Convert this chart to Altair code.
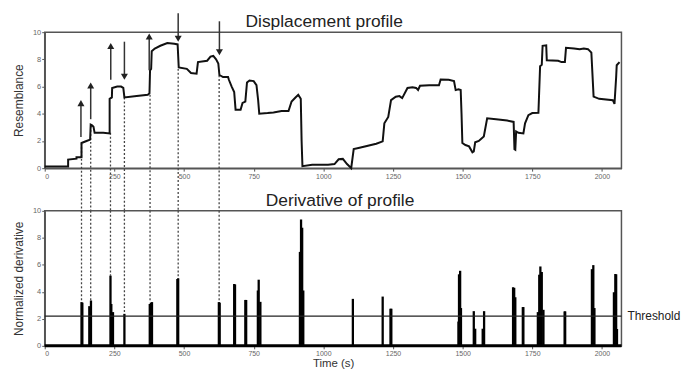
import altair as alt
import pandas as pd

# ---------------- data ----------------
# Displacement profile (time s, resemblance)
prof_t = [0, 84, 84, 114, 114, 132, 132, 150, 163, 165, 170, 175, 179, 210, 233, 233, 241, 242,
          260, 274, 282, 286, 330, 370, 376, 378, 382, 384, 395, 415, 440, 465, 477, 481, 510,
          525, 545, 550, 583, 595, 605, 615, 623, 627, 640, 658, 661, 671, 680, 685, 703, 710,
          720, 726, 735, 750, 760, 766, 770, 800, 821, 850, 875, 886, 900, 910, 919, 922, 925,
          960, 1017, 1040, 1055, 1070, 1085, 1095, 1100, 1109, 1130, 1160, 1190, 1213, 1219,
          1233, 1243, 1260, 1273, 1283, 1302, 1320, 1333, 1340, 1347, 1380, 1415, 1421, 1450,
          1469, 1475, 1485, 1493, 1496, 1499, 1510, 1523, 1535, 1540, 1545, 1558, 1576, 1588,
          1620, 1660, 1683, 1686, 1689, 1692, 1700, 1718, 1724, 1736, 1750, 1772, 1778, 1784,
          1787, 1800, 1802, 1843, 1855, 1867, 1871, 1900, 1920, 1935, 1950, 1962, 1970, 1990,
          2039, 2045, 2051, 2053, 2063]
prof_v = [0.12, 0.12, 0.63, 0.7, 0.8, 0.8, 1.85, 2.0, 2.1, 3.2, 3.15, 3.05, 2.6, 2.6, 2.55, 5.1,
          5.2, 5.9, 6.0, 6.0, 5.9, 5.2, 5.3, 5.4, 5.5, 7.2, 7.3, 8.6, 8.8, 9.0, 9.2, 9.15, 9.1,
          7.4, 7.3, 7.0, 6.95, 7.8, 7.9, 8.2, 8.25, 8.0, 7.7, 6.85, 6.7, 6.7, 6.5, 6.0, 5.6, 4.3,
          4.3, 4.8, 4.9, 6.3, 6.45, 6.4, 6.1, 5.0, 4.0, 4.05, 4.1, 4.2, 4.2, 4.9, 5.2, 5.4, 5.1,
          2.0, 0.15, 0.25, 0.25, 0.3, 0.65, 0.68, 0.3, 0.1, 0.0, 1.4, 1.5, 1.65, 1.8, 1.97, 3.3,
          3.77, 5.0, 5.25, 5.3, 5.15, 5.9, 5.95, 5.9, 5.75, 6.06, 6.1, 6.1, 6.52, 6.5, 6.4, 5.74,
          5.8, 5.75, 4.0, 1.85, 1.7, 1.6, 1.17, 1.24, 1.9, 2.0, 2.33, 3.67, 3.6, 3.5, 3.4, 1.4,
          1.36, 2.7, 2.6, 2.55, 3.3, 3.9, 4.05, 4.07, 7.5, 7.6, 9.0, 9.03, 7.93, 7.9, 7.8, 7.8,
          8.85, 8.8, 8.75, 8.8, 8.75, 8.5, 5.26, 5.1, 5.0, 4.72, 6.7, 7.57, 7.8]

# Derivative spikes (time s, normalized derivative)
spike_t = [132, 135, 160, 166, 236, 239, 245, 286, 377, 381, 385, 476, 479, 625, 628, 680, 683,
           720, 723, 765, 768, 774, 916, 920, 924, 928, 1106, 1213, 1241, 1244, 1485, 1487, 1491,
           1494, 1540, 1545, 1572, 1577, 1681, 1685, 1689, 1716, 1718, 1770, 1775, 1779, 1784,
           1790, 1866, 1868, 1964, 1969, 1973, 2043, 2048, 2051, 2054]
spike_h = [3.24, 3.2, 2.94, 3.36, 5.2, 3.1, 2.5, 2.37, 3.1, 3.2, 3.24, 4.95, 5.0, 3.24, 3.2, 4.58,
           4.55, 3.4, 3.4, 4.1, 4.9, 3.26, 6.96, 9.36, 8.75, 4.1, 3.48, 3.65, 2.75, 2.75, 1.8, 5.3,
           5.56, 2.8, 2.57, 1.27, 1.27, 2.57, 4.34, 4.3, 3.6, 2.87, 2.87, 2.5, 5.27, 5.88, 5.47,
           2.67, 2.55, 2.55, 5.68, 5.98, 2.8, 3.97, 5.32, 5.3, 1.25]

threshold = 2.2

# Arrows on the profile
arrow_t = [130, 165, 237, 286, 375, 479, 627]
arrow_from = [2.3, 3.6, 6.5, 9.3, 7.2, 11.4, 10.8]
arrow_to = [5.0, 6.3, 9.2, 6.5, 9.9, 9.3, 8.3]
arrow_dir = ["up", "up", "up", "down", "up", "down", "down"]

# Dotted links between profile steps and derivative spikes
link_t = [132, 165, 236, 286, 378, 479, 626]
link_top = [1.85, 3.1, 2.6, 5.2, 5.4, 7.3, 6.84]
link_bottom = [3.24, 3.36, 5.2, 2.37, 3.24, 4.95, 3.24]

x_ticks = [0, 250, 500, 750, 1000, 1250, 1500, 1750, 2000]
y_ticks = [0, 2, 4, 6, 8, 10]

# ---------------- layout ----------------
FONT = "Liberation Sans"
XMAX = 2070
W, H1, H2, GAP = 581, 137, 136, 43
HEAD = 0.25  # arrow head offset (data units)

xscale = alt.Scale(domain=[0, XMAX], nice=False, zero=False)
yscale = alt.Scale(domain=[0, 10], nice=False, zero=False)


def xaxis(title=None):
    return alt.Axis(values=x_ticks, format="d", title=title, grid=False, labelFont=FONT,
                    labelFontSize=7, labelColor="#666", tickSize=3, tickColor="#555",
                    domainColor="#555", domainWidth=1.5, labelPadding=1, titleFont=FONT,
                    titleFontSize=11.5, titleFontWeight="normal", titleColor="#333",
                    titlePadding=1)


def yaxis(title):
    return alt.Axis(values=y_ticks, title=title, grid=False, labelFont=FONT, labelFontSize=7.5,
                    labelColor="#666", tickSize=3, tickColor="#555", domainColor="#555",
                    domainWidth=1.5, labelPadding=1, titleFont=FONT, titleFontSize=12,
                    titleFontWeight="normal", titleColor="#333", titlePadding=7)


ax_top = xaxis()
ay_top = yaxis("Resemblance")
ax_bot = xaxis("Time (s)")
ay_bot = yaxis("Normalized derivative")

prof_df = pd.DataFrame({"t": prof_t, "v": prof_v, "i": range(len(prof_t))})
arrow_df = pd.DataFrame({
    "t": arrow_t,
    "v": arrow_from,
    "v2": [b - HEAD if d == "up" else b + HEAD for b, d in zip(arrow_to, arrow_dir)],
    "head": [b - 0.22 if d == "up" else b + 0.22 for b, d in zip(arrow_to, arrow_dir)],
    "d": arrow_dir,
})
link_top_df = pd.DataFrame({"t": link_t, "v": link_top,
                            "v2": [-GAP / H1 * 10] * len(link_t)})
link_bot_df = pd.DataFrame({"t": link_t, "v": [10] * len(link_t), "v2": link_bottom})
spike_df = pd.DataFrame({"t": spike_t, "v": spike_h, "v2": [0] * len(spike_t)})
thr_df = pd.DataFrame({"t": [0], "t2": [XMAX], "v": [threshold], "label": ["Threshold"]})
base_df = pd.DataFrame({"t": [0], "t2": [XMAX], "v": [0]})

X = lambda ax: alt.X("t:Q", scale=xscale, axis=ax)
Y = lambda ay: alt.Y("v:Q", scale=yscale, axis=ay)

# ---------------- top panel ----------------
profile = alt.Chart(prof_df).mark_line(color="#111", strokeWidth=2).encode(
    x=X(ax_top), y=Y(ay_top), order=alt.Order("i:Q"))
shafts = alt.Chart(arrow_df).mark_rule(color="#333", strokeWidth=1.5).encode(
    x=X(ax_top), y=Y(ay_top), y2="v2:Q")
heads = alt.Chart(arrow_df).mark_point(filled=True, size=50, color="#222", opacity=1).encode(
    x=X(ax_top),
    y=alt.Y("head:Q", scale=yscale, axis=ay_top),
    shape=alt.Shape("d:N", scale=alt.Scale(domain=["up", "down"],
                                           range=["triangle-up", "triangle-down"]), legend=None))
links_top = alt.Chart(link_top_df).mark_rule(color="#444", strokeWidth=1.3, strokeDash=[2, 2]).encode(
    x=X(ax_top), y=Y(ay_top), y2="v2:Q")

top = alt.layer(links_top, profile, shafts, heads).properties(
    width=W, height=H1,
    title=alt.TitleParams("Displacement profile", font=FONT, fontSize=17.5, fontWeight="normal",
                          color="#222", offset=-18, frame="group", dx=-9))

# ---------------- bottom panel ----------------
links_bot = alt.Chart(link_bot_df).mark_rule(color="#444", strokeWidth=1.3, strokeDash=[2, 2]).encode(
    x=X(ax_bot), y=Y(ay_bot), y2="v2:Q")
spikes = alt.Chart(spike_df).mark_rule(color="#000", strokeWidth=2.3).encode(
    x=X(ax_bot), y=Y(ay_bot), y2="v2:Q")
baseline = alt.Chart(base_df).mark_rule(color="#000", strokeWidth=3).encode(
    x=X(ax_bot), x2="t2:Q", y=Y(ay_bot))
thr_line = alt.Chart(thr_df).mark_rule(color="#222", strokeWidth=1.2).encode(
    x=X(ax_bot), x2="t2:Q", y=Y(ay_bot))
thr_text = alt.Chart(thr_df).mark_text(align="left", baseline="middle", dx=6, font=FONT,
                                       fontSize=12, color="#222").encode(
    x=alt.X("t2:Q", scale=xscale, axis=ax_bot), y=Y(ay_bot), text="label:N")

bottom = alt.layer(links_bot, spikes, baseline, thr_line, thr_text).properties(
    width=W, height=H2,
    title=alt.TitleParams("Derivative of profile", font=FONT, fontSize=17.5, fontWeight="normal",
                          color="#222", offset=-3, frame="group", dx=7))

chart = alt.vconcat(top, bottom, spacing=GAP, bounds="flush").properties(
    padding={"left": 3, "top": 2, "right": 0, "bottom": 0}
).configure_view(stroke="#555", strokeWidth=1.5)

chart.save("out.html", embed_options={"renderer": "svg", "actions": False})
